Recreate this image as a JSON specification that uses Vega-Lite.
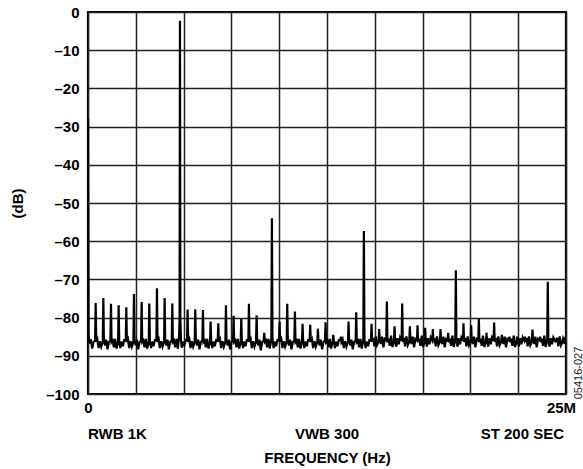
{
  "$schema": "https://vega.github.io/schema/vega-lite/v6.json",
  "width": 478,
  "height": 382,
  "autosize": {"type": "none"},
  "padding": {"left": 88, "top": 12, "right": 17, "bottom": 75},
  "background": "white",
  "config": {
    "view": {"stroke": "black", "strokeWidth": 2.2},
    "font": "Liberation Sans",
    "axis": {
      "grid": true, "gridColor": "#222222", "gridWidth": 1.5, "gridOpacity": 1,
      "domain": false, "ticks": false, "tickSize": 0, "labelOverlap": false,
      "labelFont": "Liberation Sans", "labelFontSize": 15, "labelFontWeight": "bold", "labelColor": "black",
      "titleFont": "Liberation Sans", "titleFontSize": 15, "titleFontWeight": "bold", "titleColor": "black"
    }
  },
  "data": {"values": [
    {"f":0,"db":-28},{"f":0.03,"db":-84.5},{"f":0.09,"db":-86.8},{"f":0.15,"db":-85.7},{"f":0.22,"db":-88.1},{"f":0.29,"db":-86.4},
    {"f":0.371,"db":-86.0},{"f":0.401,"db":-76.2},{"f":0.431,"db":-86.4},{"f":0.491,"db":-85.7},{"f":0.551,"db":-88.0},{"f":0.621,"db":-86.2},{"f":0.691,"db":-87.6},
    {"f":0.772,"db":-86.3},{"f":0.802,"db":-74.9},{"f":0.832,"db":-85.9},{"f":0.892,"db":-87.3},{"f":0.952,"db":-85.8},{"f":1.022,"db":-88.3},{"f":1.092,"db":-86.4},
    {"f":1.172,"db":-86.0},{"f":1.202,"db":-76.4},{"f":1.232,"db":-86.4},{"f":1.292,"db":-86.0},{"f":1.352,"db":-87.8},{"f":1.422,"db":-85.6},{"f":1.492,"db":-88.1},
    {"f":1.573,"db":-86.3},{"f":1.603,"db":-76.8},{"f":1.633,"db":-85.9},{"f":1.693,"db":-88.0},{"f":1.753,"db":-86.3},{"f":1.823,"db":-87.5},{"f":1.893,"db":-85.9},
    {"f":1.974,"db":-86.0},{"f":2.004,"db":-77.3},{"f":2.034,"db":-86.4},{"f":2.094,"db":-85.7},{"f":2.154,"db":-88.0},{"f":2.224,"db":-86.2},{"f":2.294,"db":-87.6},
    {"f":2.375,"db":-86.3},{"f":2.405,"db":-73.8},{"f":2.435,"db":-85.9},{"f":2.495,"db":-87.3},{"f":2.555,"db":-85.8},{"f":2.625,"db":-88.3},{"f":2.695,"db":-86.4},
    {"f":2.776,"db":-86.0},{"f":2.806,"db":-75.9},{"f":2.836,"db":-86.4},{"f":2.896,"db":-86.0},{"f":2.956,"db":-87.8},{"f":3.026,"db":-85.6},{"f":3.096,"db":-88.1},
    {"f":3.176,"db":-86.3},{"f":3.206,"db":-76.3},{"f":3.236,"db":-85.9},{"f":3.296,"db":-88.0},{"f":3.356,"db":-86.3},{"f":3.426,"db":-87.5},{"f":3.496,"db":-85.9},
    {"f":3.577,"db":-86.0},{"f":3.607,"db":-72.3},{"f":3.637,"db":-86.4},{"f":3.697,"db":-85.7},{"f":3.757,"db":-88.0},{"f":3.827,"db":-86.2},{"f":3.897,"db":-87.6},
    {"f":3.978,"db":-86.3},{"f":4.008,"db":-74.9},{"f":4.038,"db":-85.9},{"f":4.098,"db":-87.3},{"f":4.158,"db":-85.8},{"f":4.228,"db":-88.3},{"f":4.298,"db":-86.4},
    {"f":4.379,"db":-86.0},{"f":4.409,"db":-76.3},{"f":4.439,"db":-86.4},{"f":4.499,"db":-86.0},{"f":4.559,"db":-87.8},{"f":4.629,"db":-85.6},{"f":4.699,"db":-88.1},
    {"f":4.76,"db":-85.2},{"f":4.79,"db":-80.0},{"f":4.81,"db":-2.3},{"f":4.83,"db":-80.0},{"f":4.86,"db":-85.4},{"f":4.9,"db":-87.9},{"f":4.96,"db":-86.3},{"f":5.03,"db":-87.5},{"f":5.1,"db":-85.9},
    {"f":5.18,"db":-86.0},{"f":5.21,"db":-77.9},{"f":5.24,"db":-86.4},{"f":5.30,"db":-85.7},{"f":5.36,"db":-88.0},{"f":5.43,"db":-86.2},{"f":5.50,"db":-87.6},
    {"f":5.581,"db":-86.3},{"f":5.611,"db":-77.8},{"f":5.641,"db":-85.9},{"f":5.701,"db":-87.3},{"f":5.761,"db":-85.8},{"f":5.831,"db":-88.3},{"f":5.901,"db":-86.4},
    {"f":5.982,"db":-86.0},{"f":6.012,"db":-78.0},{"f":6.042,"db":-86.4},{"f":6.102,"db":-86.0},{"f":6.162,"db":-87.8},{"f":6.232,"db":-85.6},{"f":6.302,"db":-88.1},
    {"f":6.383,"db":-86.3},{"f":6.413,"db":-81.0},{"f":6.443,"db":-85.9},{"f":6.503,"db":-88.0},{"f":6.563,"db":-86.3},{"f":6.633,"db":-87.5},{"f":6.703,"db":-85.9},
    {"f":6.784,"db":-86.0},{"f":6.814,"db":-81.5},{"f":6.844,"db":-86.4},{"f":6.904,"db":-85.7},{"f":6.964,"db":-88.0},{"f":7.034,"db":-86.2},{"f":7.104,"db":-87.6},
    {"f":7.184,"db":-86.3},{"f":7.214,"db":-76.8},{"f":7.244,"db":-85.9},{"f":7.304,"db":-87.3},{"f":7.364,"db":-85.8},{"f":7.434,"db":-88.3},{"f":7.504,"db":-86.4},
    {"f":7.585,"db":-86.0},{"f":7.615,"db":-79.5},{"f":7.645,"db":-86.4},{"f":7.705,"db":-86.0},{"f":7.765,"db":-87.8},{"f":7.835,"db":-85.6},{"f":7.905,"db":-88.1},
    {"f":7.986,"db":-86.3},{"f":8.016,"db":-80.3},{"f":8.046,"db":-85.9},{"f":8.106,"db":-88.0},{"f":8.166,"db":-86.3},{"f":8.236,"db":-87.5},{"f":8.306,"db":-85.9},
    {"f":8.387,"db":-86.0},{"f":8.417,"db":-76.4},{"f":8.447,"db":-86.4},{"f":8.507,"db":-85.7},{"f":8.567,"db":-88.0},{"f":8.637,"db":-86.2},{"f":8.707,"db":-87.6},
    {"f":8.788,"db":-86.3},{"f":8.818,"db":-79.4},{"f":8.848,"db":-85.9},{"f":8.908,"db":-87.3},{"f":8.968,"db":-85.8},{"f":9.038,"db":-88.6},{"f":9.108,"db":-86.4},
    {"f":9.188,"db":-86.0},{"f":9.218,"db":-84.0},{"f":9.248,"db":-86.4},{"f":9.308,"db":-86.0},{"f":9.368,"db":-87.8},{"f":9.438,"db":-85.6},{"f":9.508,"db":-88.1},
    {"f":9.589,"db":-85.6},{"f":9.619,"db":-54.0},{"f":9.649,"db":-85.6},{"f":9.709,"db":-88.0},{"f":9.769,"db":-86.3},{"f":9.839,"db":-87.5},{"f":9.909,"db":-85.9},
    {"f":9.99,"db":-86.0},{"f":10.02,"db":-81.0},{"f":10.05,"db":-86.4},{"f":10.11,"db":-85.7},{"f":10.17,"db":-88.0},{"f":10.24,"db":-86.2},{"f":10.31,"db":-87.6},
    {"f":10.391,"db":-86.3},{"f":10.421,"db":-76.4},{"f":10.451,"db":-85.9},{"f":10.511,"db":-87.3},{"f":10.571,"db":-85.8},{"f":10.641,"db":-88.3},{"f":10.711,"db":-86.4},
    {"f":10.792,"db":-86.0},{"f":10.822,"db":-78.4},{"f":10.852,"db":-86.4},{"f":10.912,"db":-86.0},{"f":10.972,"db":-87.8},{"f":11.042,"db":-85.6},{"f":11.112,"db":-88.1},
    {"f":11.192,"db":-86.3},{"f":11.222,"db":-81.6},{"f":11.252,"db":-85.9},{"f":11.312,"db":-88.0},{"f":11.372,"db":-86.3},{"f":11.442,"db":-87.5},{"f":11.512,"db":-85.9},
    {"f":11.593,"db":-86.0},{"f":11.623,"db":-81.9},{"f":11.653,"db":-86.4},{"f":11.713,"db":-85.7},{"f":11.773,"db":-88.0},{"f":11.843,"db":-86.2},{"f":11.913,"db":-87.6},
    {"f":11.994,"db":-86.3},{"f":12.024,"db":-82.9},{"f":12.054,"db":-85.9},{"f":12.114,"db":-87.3},{"f":12.174,"db":-85.8},{"f":12.244,"db":-88.3},{"f":12.314,"db":-86.4},
    {"f":12.395,"db":-86.0},{"f":12.425,"db":-81.2},{"f":12.455,"db":-86.4},{"f":12.515,"db":-86.0},{"f":12.575,"db":-87.8},{"f":12.645,"db":-85.6},{"f":12.715,"db":-88.1},
    {"f":12.796,"db":-86.3},{"f":12.826,"db":-84.5},{"f":12.856,"db":-85.9},{"f":12.916,"db":-88.0},{"f":12.976,"db":-86.3},{"f":13.046,"db":-87.5},{"f":13.116,"db":-85.9},
    {"f":13.196,"db":-86.0},{"f":13.226,"db":-85.0},{"f":13.256,"db":-86.4},{"f":13.316,"db":-85.7},{"f":13.376,"db":-88.0},{"f":13.446,"db":-86.2},{"f":13.516,"db":-87.6},
    {"f":13.597,"db":-86.3},{"f":13.627,"db":-81.0},{"f":13.657,"db":-85.9},{"f":13.717,"db":-87.3},{"f":13.777,"db":-85.8},{"f":13.847,"db":-88.3},{"f":13.917,"db":-86.4},
    {"f":13.998,"db":-86.0},{"f":14.028,"db":-78.6},{"f":14.058,"db":-86.4},{"f":14.118,"db":-86.0},{"f":14.178,"db":-87.8},{"f":14.248,"db":-85.6},{"f":14.318,"db":-88.1},
    {"f":14.399,"db":-85.8},{"f":14.429,"db":-57.3},{"f":14.459,"db":-85.9},{"f":14.519,"db":-88.0},{"f":14.579,"db":-86.3},{"f":14.649,"db":-87.5},{"f":14.719,"db":-85.9},
    {"f":14.80,"db":-86.0},{"f":14.83,"db":-81.6},{"f":14.86,"db":-86.4},{"f":14.92,"db":-85.3},{"f":14.98,"db":-87.5},{"f":15.05,"db":-84.9},{"f":15.12,"db":-87.2},
    {"f":15.20,"db":-86.3},{"f":15.23,"db":-83.0},{"f":15.26,"db":-85.9},{"f":15.32,"db":-86.9},{"f":15.38,"db":-85.0},{"f":15.45,"db":-87.8},{"f":15.52,"db":-85.6},
    {"f":15.601,"db":-86.0},{"f":15.631,"db":-75.8},{"f":15.661,"db":-86.4},{"f":15.721,"db":-85.5},{"f":15.781,"db":-87.4},{"f":15.851,"db":-84.7},{"f":15.921,"db":-87.7},
    {"f":16.002,"db":-86.3},{"f":16.032,"db":-82.3},{"f":16.062,"db":-85.9},{"f":16.122,"db":-87.6},{"f":16.182,"db":-85.4},{"f":16.252,"db":-87.0},{"f":16.322,"db":-85.2},
    {"f":16.403,"db":-86.0},{"f":16.433,"db":-76.3},{"f":16.463,"db":-86.4},{"f":16.523,"db":-85.3},{"f":16.583,"db":-87.5},{"f":16.653,"db":-84.9},{"f":16.723,"db":-87.2},
    {"f":16.804,"db":-86.3},{"f":16.834,"db":-82.3},{"f":16.864,"db":-85.9},{"f":16.924,"db":-86.9},{"f":16.984,"db":-85.0},{"f":17.054,"db":-87.8},{"f":17.124,"db":-85.6},
    {"f":17.204,"db":-86.0},{"f":17.234,"db":-82.0},{"f":17.264,"db":-86.4},{"f":17.324,"db":-85.5},{"f":17.384,"db":-87.4},{"f":17.454,"db":-84.7},{"f":17.524,"db":-87.7},
    {"f":17.605,"db":-86.3},{"f":17.635,"db":-82.7},{"f":17.665,"db":-85.9},{"f":17.725,"db":-87.6},{"f":17.785,"db":-85.4},{"f":17.855,"db":-87.0},{"f":17.925,"db":-85.2},
    {"f":18.006,"db":-86.0},{"f":18.036,"db":-83.0},{"f":18.066,"db":-86.4},{"f":18.126,"db":-85.3},{"f":18.186,"db":-87.5},{"f":18.256,"db":-84.9},{"f":18.326,"db":-87.2},
    {"f":18.407,"db":-86.3},{"f":18.437,"db":-83.0},{"f":18.467,"db":-85.9},{"f":18.527,"db":-86.9},{"f":18.587,"db":-85.0},{"f":18.657,"db":-87.8},{"f":18.727,"db":-85.6},
    {"f":18.808,"db":-86.0},{"f":18.838,"db":-84.0},{"f":18.868,"db":-86.4},{"f":18.928,"db":-85.5},{"f":18.988,"db":-87.4},{"f":19.058,"db":-84.7},{"f":19.128,"db":-87.7},
    {"f":19.208,"db":-85.7},{"f":19.238,"db":-67.6},{"f":19.268,"db":-85.9},{"f":19.328,"db":-87.6},{"f":19.388,"db":-85.4},{"f":19.458,"db":-87.0},{"f":19.528,"db":-85.2},
    {"f":19.609,"db":-86.0},{"f":19.639,"db":-81.5},{"f":19.669,"db":-86.4},{"f":19.729,"db":-85.3},{"f":19.789,"db":-87.5},{"f":19.859,"db":-84.9},{"f":19.929,"db":-87.2},
    {"f":20.01,"db":-86.3},{"f":20.04,"db":-82.0},{"f":20.07,"db":-85.9},{"f":20.13,"db":-86.9},{"f":20.19,"db":-85.0},{"f":20.26,"db":-87.8},{"f":20.33,"db":-85.6},
    {"f":20.411,"db":-86.0},{"f":20.441,"db":-80.2},{"f":20.471,"db":-86.4},{"f":20.531,"db":-85.5},{"f":20.591,"db":-87.4},{"f":20.661,"db":-84.7},{"f":20.731,"db":-87.7},
    {"f":20.812,"db":-86.3},{"f":20.842,"db":-84.0},{"f":20.872,"db":-85.9},{"f":20.932,"db":-87.6},{"f":20.992,"db":-85.4},{"f":21.062,"db":-87.0},{"f":21.132,"db":-85.2},
    {"f":21.212,"db":-86.0},{"f":21.242,"db":-81.3},{"f":21.272,"db":-86.4},{"f":21.332,"db":-85.3},{"f":21.392,"db":-87.5},{"f":21.462,"db":-84.9},{"f":21.532,"db":-87.2},
    {"f":21.613,"db":-86.3},{"f":21.643,"db":-84.5},{"f":21.673,"db":-85.9},{"f":21.733,"db":-86.9},{"f":21.793,"db":-85.0},{"f":21.863,"db":-87.8},{"f":21.933,"db":-85.6},
    {"f":22.014,"db":-86.0},{"f":22.044,"db":-85.0},{"f":22.074,"db":-86.4},{"f":22.134,"db":-85.5},{"f":22.194,"db":-87.4},{"f":22.264,"db":-84.7},{"f":22.334,"db":-87.7},
    {"f":22.415,"db":-86.3},{"f":22.445,"db":-85.0},{"f":22.475,"db":-85.9},{"f":22.535,"db":-87.6},{"f":22.595,"db":-85.4},{"f":22.665,"db":-87.0},{"f":22.735,"db":-85.2},
    {"f":22.816,"db":-86.0},{"f":22.846,"db":-85.0},{"f":22.876,"db":-86.4},{"f":22.936,"db":-85.3},{"f":22.996,"db":-87.5},{"f":23.066,"db":-84.9},{"f":23.136,"db":-87.2},
    {"f":23.216,"db":-86.3},{"f":23.246,"db":-83.1},{"f":23.276,"db":-85.9},{"f":23.336,"db":-86.9},{"f":23.396,"db":-85.0},{"f":23.466,"db":-87.8},{"f":23.536,"db":-85.6},
    {"f":23.617,"db":-86.0},{"f":23.647,"db":-85.0},{"f":23.677,"db":-86.4},{"f":23.737,"db":-85.5},{"f":23.797,"db":-87.4},{"f":23.867,"db":-84.7},{"f":23.937,"db":-87.7},
    {"f":24.018,"db":-85.9},{"f":24.048,"db":-70.6},{"f":24.078,"db":-85.9},{"f":24.138,"db":-87.6},{"f":24.198,"db":-85.4},{"f":24.268,"db":-87.0},{"f":24.338,"db":-85.2},
    {"f":24.419,"db":-86.0},{"f":24.449,"db":-85.5},{"f":24.479,"db":-86.4},{"f":24.539,"db":-85.3},{"f":24.599,"db":-87.5},{"f":24.669,"db":-84.9},{"f":24.739,"db":-87.2},
    {"f":24.82,"db":-86.3},{"f":24.85,"db":-85.5},{"f":24.88,"db":-85.9},{"f":24.93,"db":-86.9},{"f":24.97,"db":-85.0},{"f":25.0,"db":-86.4}
  ]},
  "encoding": {
    "x": {"field": "f", "type": "quantitative",
      "scale": {"domain": [0, 25], "nice": false, "zero": false},
      "axis": {
        "values": [0, 2.5, 5, 7.5, 10, 12.5, 15, 17.5, 20, 22.5, 25],
        "labelExpr": "datum.value == 0 ? '0' : (datum.value == 25 ? '25M' : '')",
        "labelFlush": false,
        "labelOffset": {"condition": {"test": "datum.value == 25", "value": -5}, "value": 0},
        "labelPadding": 6,
        "title": "FREQUENCY (Hz)",
        "titlePadding": 35
      }},
    "y": {"field": "db", "type": "quantitative",
      "scale": {"domain": [-100, 0], "nice": false, "zero": false},
      "axis": {
        "values": [-100, -90, -80, -70, -60, -50, -40, -30, -20, -10, 0],
        "labelExpr": "datum.value == 0 ? '0' : '\u2013' + abs(datum.value)",
        "labelOverlap": false,
        "labelPadding": 9,
        "title": "(dB)",
        "titlePadding": 20
      }}
  },
  "layer": [
    {
      "mark": {"type": "line", "color": "black", "strokeWidth": 2.2, "strokeJoin": "miter", "clip": true}
    },
    {
      "data": {"values": [{"f": 0, "db": -110.5, "t": "RWB 1K"}]},
      "mark": {"type": "text", "align": "left", "baseline": "middle", "font": "Liberation Sans", "fontSize": 15, "fontWeight": "bold", "color": "black"},
      "encoding": {"text": {"field": "t"}}
    },
    {
      "data": {"values": [{"f": 12.5, "db": -110.5, "t": "VWB 300"}]},
      "mark": {"type": "text", "align": "center", "baseline": "middle", "font": "Liberation Sans", "fontSize": 15, "fontWeight": "bold", "color": "black"},
      "encoding": {"text": {"field": "t"}}
    },
    {
      "data": {"values": [{"f": 25, "db": -110.5, "t": "ST 200 SEC"}]},
      "mark": {"type": "text", "align": "right", "baseline": "middle", "dx": -2, "font": "Liberation Sans", "fontSize": 15, "fontWeight": "bold", "color": "black"},
      "encoding": {"text": {"field": "t"}}
    },
    {
      "data": {"values": [{"f": 25.68, "db": -94.5, "t": "05416-027"}]},
      "mark": {"type": "text", "align": "center", "baseline": "middle", "angle": 270, "font": "Liberation Sans", "fontSize": 11, "color": "#222"},
      "encoding": {"text": {"field": "t"}}
    }
  ]
}
